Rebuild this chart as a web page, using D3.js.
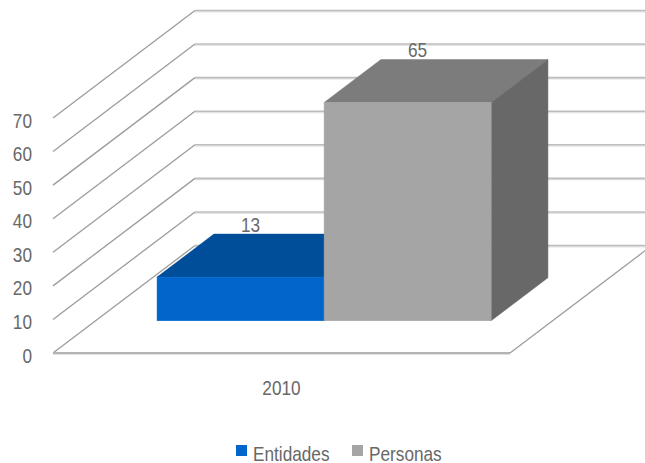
<!DOCTYPE html>
<html>
<head>
<meta charset="utf-8">
<script src="https://cdn.jsdelivr.net/npm/d3@7"></script>
<style>
  html, body { margin: 0; padding: 0; background: #ffffff; }
  svg text { font-family: "Liberation Sans", Arial, sans-serif; fill: #686868; }
</style>
</head>
<body>
<svg id="chart" width="645" height="463"></svg>
<script>
// Data
const categories = ["2010"];
const seriesNames = ["Entidades", "Personas"];
const seriesValues = [13, 65];
const tickValues = [0, 10, 20, 30, 40, 50, 60, 70];

// Colours per series: front, top, side
const palette = {
  Entidades: { front: "#0066CC", top: "#004D99", side: "#003F80" },
  Personas:  { front: "#A5A5A5", top: "#7C7C7C", side: "#686868" }
};

const svg = d3.select("#chart");

// Front plane of the 3D box and the depth offset of the back wall
const plot = { left: 53, right: 510, bottom: 353, top: 118 };
const depth = { dx: 142, dy: -107.5 };
const barDepth = [0.3, 0.7];           // bars sit in the middle of the floor

const y = d3.scaleLinear().domain([0, 70]).range([plot.bottom, plot.top]);
const x0 = d3.scaleBand().domain(categories).range([plot.left, plot.right]).paddingOuter(0.184).paddingInner(0);
const x1 = d3.scaleBand().domain(seriesNames).range([0, x0.bandwidth()]).padding(0);

// project a point given front-plane x, value and depth fraction t
const P = (xf, v, t) => [xf + depth.dx * t, y(v) + depth.dy * t];
const poly = pts => pts.map(p => p.join(",")).join(" ");

// condensed text: regular face squeezed horizontally
const FONT = 21, SQUEEZE = 0.82;
function label(parent, x, yb, str, anchor) {
  return parent.append("text")
    .attr("transform", `translate(${x},${yb}) scale(${SQUEEZE},1)`)
    .attr("text-anchor", anchor || "start")
    .attr("font-size", FONT)
    .text(str);
}

// Floor
const floorPts = [P(plot.left, 0, 0), P(plot.right, 0, 0), P(plot.right, 0, 1), P(plot.left, 0, 1)];
svg.append("polygon").attr("points", poly(floorPts)).attr("fill", "#ffffff");

// Gridlines: side wall diagonal, then across the back wall
const grid = svg.append("g");
tickValues.forEach(v => {
  const a = P(plot.left, v, 0), b = P(plot.left, v, 1), c = P(plot.right, v, 1);
  grid.append("line").attr("x1", a[0]).attr("y1", a[1]).attr("x2", b[0]).attr("y2", b[1])
    .attr("stroke", "#9c9c9c").attr("stroke-width", 1.3);
  grid.append("line").attr("x1", b[0]).attr("y1", b[1] + 1.2).attr("x2", c[0]).attr("y2", c[1] + 1.2)
    .attr("stroke", "#e4e4e4").attr("stroke-width", 1.5);
  grid.append("line").attr("x1", b[0]).attr("y1", b[1]).attr("x2", c[0]).attr("y2", c[1])
    .attr("stroke", "#bdbdbd").attr("stroke-width", 1.6);
});

// Floor front and right edges
const fl = P(plot.left, 0, 0), fr = P(plot.right, 0, 0), br = P(plot.right, 0, 1);
svg.append("line").attr("x1", fl[0]).attr("y1", fl[1] + 1.2).attr("x2", fr[0]).attr("y2", fr[1] + 1.2)
  .attr("stroke", "#e0e0e0").attr("stroke-width", 1.5);
svg.append("line").attr("x1", fl[0]).attr("y1", fl[1]).attr("x2", fr[0]).attr("y2", fr[1])
  .attr("stroke", "#b4b4b4").attr("stroke-width", 1.8);
svg.append("line").attr("x1", fr[0]).attr("y1", fr[1]).attr("x2", br[0]).attr("y2", br[1])
  .attr("stroke", "#9c9c9c").attr("stroke-width", 1.3);

// Bars (drawn left to right so later bars cover earlier side faces)
const bars = svg.append("g");
categories.forEach(cat => {
  seriesNames.forEach((s, i) => {
    const v = seriesValues[i];
    const xa = x0(cat) + x1(s), xb = xa + x1.bandwidth();
    const [t0, t1] = barDepth;
    const col = palette[s];
    // top face
    bars.append("polygon")
      .attr("points", poly([P(xa, v, t0), P(xb, v, t0), P(xb, v, t1), P(xa, v, t1)]))
      .attr("fill", col.top).attr("stroke", col.top).attr("stroke-width", 0.5);
    // right side face
    bars.append("polygon")
      .attr("points", poly([P(xb, 0, t0), P(xb, v, t0), P(xb, v, t1), P(xb, 0, t1)]))
      .attr("fill", col.side).attr("stroke", col.side).attr("stroke-width", 0.5);
    // front face
    const f0 = P(xa, v, t0), f1 = P(xb, 0, t0);
    bars.append("rect")
      .attr("x", f0[0]).attr("y", f0[1]).attr("width", f1[0] - f0[0]).attr("height", f1[1] - f0[1])
      .attr("fill", col.front).attr("stroke", col.front).attr("stroke-width", 0.5);
  });
});

// Data labels above each bar's top face
const labels = svg.append("g");
categories.forEach(cat => {
  seriesNames.forEach((s, i) => {
    const v = seriesValues[i];
    const xc = x0(cat) + x1(s) + x1.bandwidth() / 2;
    const px = P(xc, v, 0.37)[0];
    const py = P(xc, v, barDepth[1])[1];
    label(labels, px, py - 10 + 7.5, v, "middle");
  });
});

// Value axis labels
const axis = svg.append("g");
tickValues.forEach(v => label(axis, 32, y(v) + 9.5, v, "end"));

// Category label
categories.forEach(cat => label(svg, x0(cat) + x0.bandwidth() / 2, 395, cat, "middle"));

// Legend
const legendX = [236, 352];
seriesNames.forEach((s, i) => {
  const g = svg.append("g").attr("transform", `translate(${legendX[i]},445)`);
  g.append("rect").attr("width", 11).attr("height", 11).attr("fill", palette[s].front);
  label(g, 17, 16, s, "start");
});
</script>
</body>
</html>
